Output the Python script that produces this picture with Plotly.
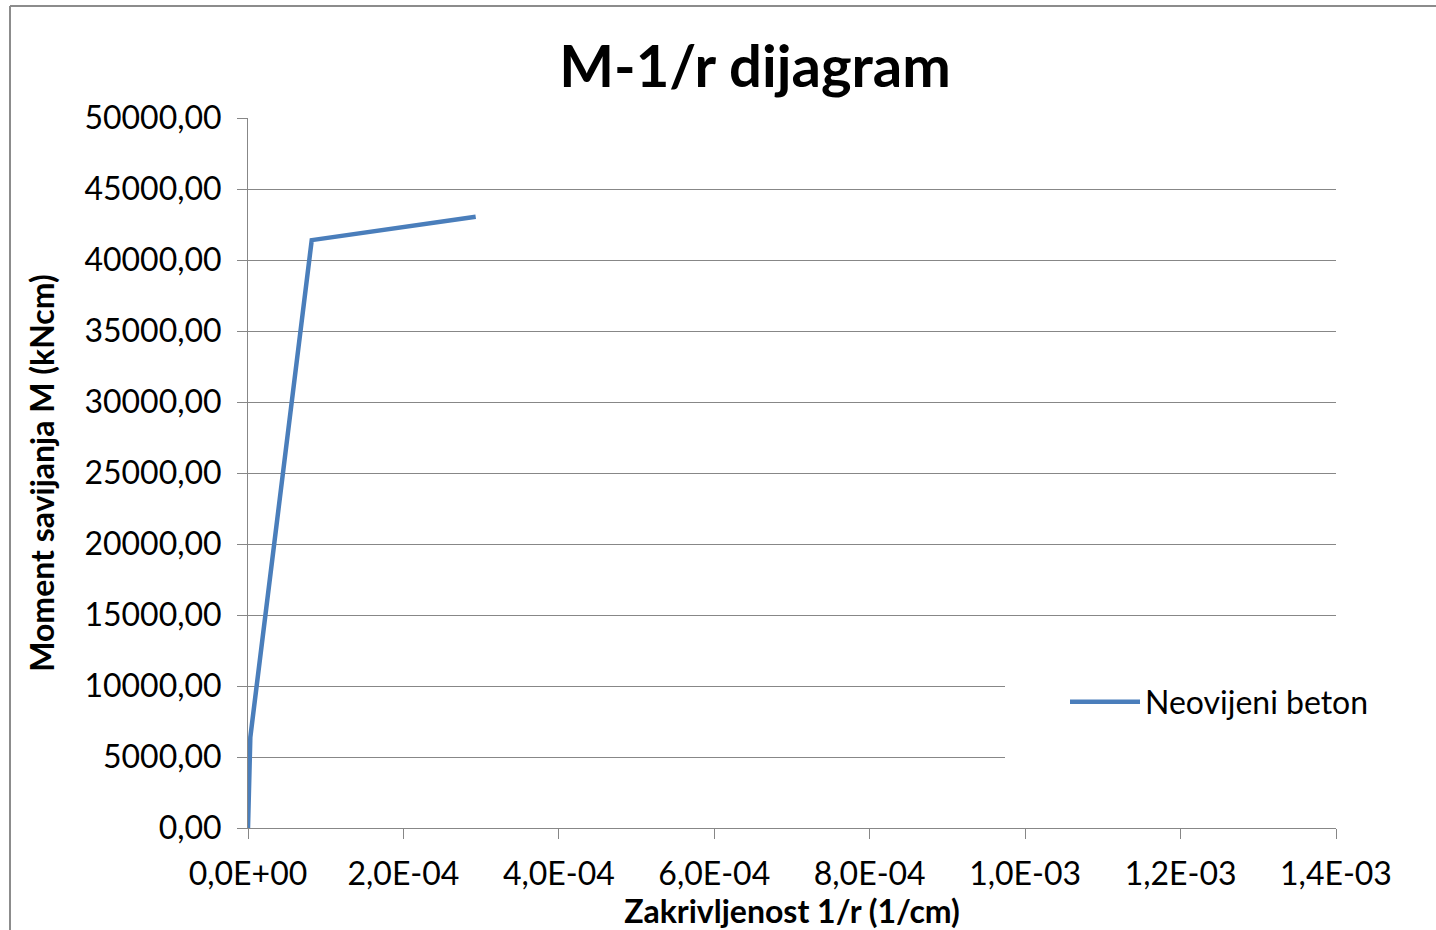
import plotly.graph_objects as go

# Data
curvature = [0.0, 3.0e-6, 8.2e-5, 2.93e-4]          # 1/r (1/cm)
moment = [0.0, 6400.0, 41400.0, 43050.0]            # M (kNcm)
series_name = "Neovijeni beton"

y_tickvals = [0, 5000, 10000, 15000, 20000, 25000, 30000, 35000, 40000, 45000, 50000]
y_ticktext = ["0,00", "5000,00", "10000,00", "15000,00", "20000,00", "25000,00",
              "30000,00", "35000,00", "40000,00", "45000,00", "50000,00"]
x_tickvals = [0, 2e-4, 4e-4, 6e-4, 8e-4, 1.0e-3, 1.2e-3, 1.4e-3]
x_ticktext = ["0,0E+00", "2,0E-04", "4,0E-04", "6,0E-04", "8,0E-04",
              "1,0E-03", "1,2E-03", "1,4E-03"]

FONT = "Lato"
GRID = "#878787"

fig = go.Figure()
fig.add_trace(go.Scatter(
    x=curvature, y=moment, mode="lines", name=series_name,
    line=dict(color="#4A7EBB", width=4.5),
))

W, H = 1436, 930
L, R, T, B = 248, 1336, 118, 828

def px_x(p):
    return (p - L) / (R - L)

def px_y(p):
    return (B - p) / (B - T)

fig.update_layout(
    width=W, height=H,
    margin=dict(l=L, r=W - R, t=T, b=H - B),
    paper_bgcolor="white", plot_bgcolor="white",
    font=dict(family=FONT, color="black"),
    title=dict(text="<b>M-1/r dijagram</b>", x=755 / W, xanchor="center",
               y=1 - 67 / H, yanchor="middle", xref="container", yref="container",
               font=dict(size=58, family=FONT, color="black")),
    showlegend=True,
    legend=dict(x=px_x(1065), y=px_y(702), xanchor="left", yanchor="middle",
                bgcolor="rgba(255,255,255,0)", borderwidth=0,
                font=dict(size=32, family=FONT, color="black"),
                itemwidth=70),
    shapes=[
        # white legend area hiding gridlines as in the reference
        dict(type="rect", xref="paper", yref="paper",
             x0=px_x(1005), x1=px_x(1345), y0=px_y(775), y1=px_y(668),
             fillcolor="white", line=dict(width=0), layer="above"),
        # chart outer border (top and left edges visible in the window)
        dict(type="line", xref="paper", yref="paper",
             x0=px_x(10), x1=px_x(1500), y0=px_y(6), y1=px_y(6),
             line=dict(color="#8c8c8c", width=2), layer="above"),
        dict(type="line", xref="paper", yref="paper",
             x0=px_x(10), x1=px_x(10), y0=px_y(6), y1=px_y(1000),
             line=dict(color="#8c8c8c", width=2), layer="above"),
    ],
)

fig.update_yaxes(
    range=[0, 50000], tickvals=y_tickvals, ticktext=y_ticktext,
    showgrid=True, gridcolor=GRID, gridwidth=1, zeroline=False,
    showline=True, linecolor=GRID, linewidth=1,
    ticks="outside", ticklen=10, tickcolor=GRID,
    ticklabelstandoff=9,
    tickfont=dict(size=32, family=FONT, color="black"),
    title=dict(text="<b>Moment savijanja M (kNcm)</b>", standoff=20,
               font=dict(size=32, family=FONT, color="black")),
    automargin=False,
)
fig.update_xaxes(
    range=[0, 1.4e-3], tickvals=x_tickvals, ticktext=x_ticktext,
    showgrid=False, zeroline=False,
    showline=True, linecolor=GRID, linewidth=1,
    ticks="outside", ticklen=10, tickcolor=GRID,
    ticklabelstandoff=8,
    tickfont=dict(size=32, family=FONT, color="black"),
    title=dict(text="<b>Zakrivljenost 1/r (1/cm)</b>", standoff=4,
               font=dict(size=32, family=FONT, color="black")),
    automargin=False,
)

fig.write_html("out.html")
